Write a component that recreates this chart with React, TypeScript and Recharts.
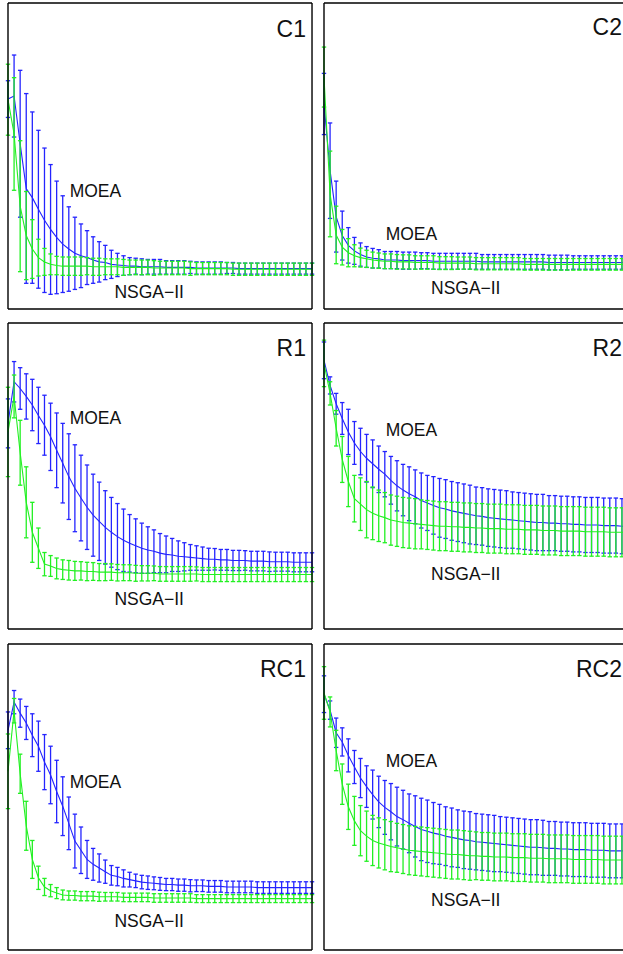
import React from 'react';
import { ComposedChart, Line, XAxis, YAxis, ErrorBar, ReferenceDot } from 'recharts';

// Generation index 0..50
const GENERATIONS = [
  0, 1, 2, 3, 4, 5, 6, 7, 8, 9, 10, 11, 12, 13, 14, 15, 16, 17, 18, 19, 20, 21, 22, 23, 24, 25,
  26, 27, 28, 29, 30, 31, 32, 33, 34, 35, 36, 37, 38, 39, 40, 41, 42, 43, 44, 45, 46, 47, 48, 49, 50,
];
const X_TICKS = [0, 10, 20, 30, 40, 50];
const Y_TICKS = [0, 1, 2, 3, 4, 5];

// ---- C1 ----
const C1_MOEA_MEAN = [
  3.43, 3.48, 2.70, 1.97, 1.82, 1.63, 1.45, 1.30, 1.17, 1.06, 0.98,
  0.91, 0.87, 0.84, 0.80, 0.77, 0.76, 0.73, 0.72, 0.71, 0.70,
  0.70, 0.69, 0.69, 0.69, 0.69, 0.68, 0.68, 0.68, 0.68, 0.68,
  0.67, 0.67, 0.67, 0.67, 0.67, 0.67, 0.67, 0.66, 0.66, 0.66,
  0.66, 0.66, 0.66, 0.66, 0.66, 0.66, 0.66, 0.66, 0.66, 0.66,
];
const C1_MOEA_STD = [
  0.30, 0.67, 1.20, 1.55, 1.40, 1.29, 1.18, 1.06, 0.92, 0.79, 0.69,
  0.59, 0.52, 0.44, 0.38, 0.33, 0.28, 0.23, 0.19, 0.16, 0.14,
  0.13, 0.13, 0.12, 0.12, 0.12, 0.11, 0.11, 0.11, 0.11, 0.10,
  0.10, 0.10, 0.10, 0.10, 0.10, 0.09, 0.09, 0.09, 0.09, 0.09,
  0.09, 0.09, 0.09, 0.09, 0.09, 0.09, 0.09, 0.09, 0.09, 0.09,
];
const C1_NSGA_MEAN = [
  3.42, 2.86, 1.68, 1.20, 0.98, 0.84, 0.77, 0.73, 0.71, 0.70, 0.70,
  0.70, 0.70, 0.70, 0.69, 0.69, 0.69, 0.69, 0.69, 0.68, 0.68,
  0.68, 0.68, 0.68, 0.67, 0.67, 0.67, 0.67, 0.67, 0.67, 0.66,
  0.66, 0.66, 0.66, 0.66, 0.66, 0.66, 0.65, 0.65, 0.65, 0.65,
  0.65, 0.65, 0.65, 0.65, 0.65, 0.65, 0.65, 0.65, 0.65, 0.65,
];
const C1_NSGA_STD = [
  0.58, 0.92, 1.07, 0.72, 0.48, 0.30, 0.22, 0.17, 0.15, 0.15, 0.15,
  0.15, 0.15, 0.14, 0.14, 0.14, 0.13, 0.13, 0.13, 0.13, 0.12,
  0.12, 0.12, 0.12, 0.12, 0.11, 0.11, 0.11, 0.11, 0.11, 0.11,
  0.10, 0.10, 0.10, 0.10, 0.10, 0.10, 0.10, 0.10, 0.10, 0.10,
  0.10, 0.10, 0.10, 0.10, 0.10, 0.10, 0.10, 0.10, 0.10, 0.10,
];

// ---- C2 ----
const C2_MOEA_MEAN = [
  3.35, 2.26, 1.51, 1.20, 1.04, 0.95, 0.89, 0.85, 0.83, 0.82, 0.80,
  0.80, 0.80, 0.79, 0.79, 0.79, 0.79, 0.79, 0.78, 0.78, 0.78,
  0.78, 0.78, 0.78, 0.78, 0.78, 0.77, 0.77, 0.77, 0.77, 0.77,
  0.77, 0.77, 0.77, 0.77, 0.77, 0.77, 0.76, 0.76, 0.76, 0.76,
  0.76, 0.76, 0.76, 0.76, 0.76, 0.76, 0.76, 0.76, 0.76, 0.76,
];
const C2_MOEA_STD = [
  0.50, 0.78, 0.58, 0.40, 0.29, 0.22, 0.19, 0.17, 0.16, 0.15, 0.14,
  0.14, 0.14, 0.14, 0.14, 0.14, 0.13, 0.13, 0.13, 0.13, 0.13,
  0.13, 0.13, 0.13, 0.13, 0.13, 0.12, 0.12, 0.12, 0.12, 0.12,
  0.12, 0.12, 0.12, 0.12, 0.12, 0.12, 0.12, 0.12, 0.12, 0.12,
  0.11, 0.11, 0.11, 0.11, 0.11, 0.11, 0.11, 0.11, 0.11, 0.11,
];
const C2_NSGA_MEAN = [
  3.79, 1.88, 1.21, 1.01, 0.92, 0.87, 0.84, 0.82, 0.80, 0.79, 0.78,
  0.78, 0.77, 0.77, 0.77, 0.76, 0.76, 0.76, 0.76, 0.75, 0.75,
  0.75, 0.75, 0.75, 0.75, 0.74, 0.74, 0.74, 0.74, 0.74, 0.74,
  0.74, 0.74, 0.73, 0.73, 0.73, 0.73, 0.73, 0.73, 0.73, 0.73,
  0.73, 0.73, 0.73, 0.73, 0.73, 0.73, 0.73, 0.73, 0.73, 0.73,
];
const C2_NSGA_STD = [
  0.49, 0.70, 0.47, 0.29, 0.23, 0.18, 0.155, 0.14, 0.13, 0.125, 0.12,
  0.12, 0.12, 0.115, 0.115, 0.11, 0.11, 0.11, 0.11, 0.105, 0.105,
  0.105, 0.10, 0.10, 0.10, 0.10, 0.10, 0.10, 0.10, 0.10, 0.10,
  0.10, 0.10, 0.095, 0.095, 0.095, 0.095, 0.095, 0.095, 0.095, 0.095,
  0.095, 0.095, 0.095, 0.095, 0.095, 0.095, 0.095, 0.095, 0.095, 0.095,
];

// ---- R1 ----
const R1_MOEA_MEAN = [
  3.36, 4.04, 3.93, 3.80, 3.66, 3.49, 3.33, 3.14, 2.92, 2.71, 2.49,
  2.30, 2.14, 1.99, 1.86, 1.76, 1.66, 1.58, 1.51, 1.45, 1.40,
  1.36, 1.32, 1.29, 1.27, 1.24, 1.22, 1.21, 1.19, 1.18, 1.17,
  1.16, 1.15, 1.14, 1.14, 1.13, 1.13, 1.12, 1.12, 1.12, 1.11,
  1.11, 1.11, 1.10, 1.10, 1.10, 1.10, 1.09, 1.09, 1.09, 1.09,
];
const R1_MOEA_STD = [
  0.40, 0.33, 0.34, 0.37, 0.42, 0.46, 0.49, 0.55, 0.61, 0.65, 0.70,
  0.71, 0.70, 0.69, 0.67, 0.64, 0.60, 0.57, 0.54, 0.51, 0.47,
  0.44, 0.41, 0.38, 0.35, 0.32, 0.30, 0.27, 0.25, 0.23, 0.21,
  0.20, 0.19, 0.18, 0.175, 0.17, 0.17, 0.165, 0.165, 0.16, 0.16,
  0.16, 0.16, 0.16, 0.155, 0.155, 0.155, 0.155, 0.155, 0.155, 0.155,
];
const R1_NSGA_MEAN = [
  3.22, 3.80, 2.88, 2.07, 1.58, 1.32, 1.06, 1.03, 0.99, 0.97, 0.96,
  0.95, 0.95, 0.94, 0.94, 0.93, 0.93, 0.93, 0.92, 0.92, 0.92,
  0.91, 0.91, 0.91, 0.91, 0.90, 0.90, 0.90, 0.90, 0.90, 0.90,
  0.90, 0.89, 0.89, 0.89, 0.89, 0.89, 0.89, 0.89, 0.89, 0.89,
  0.89, 0.89, 0.89, 0.89, 0.89, 0.89, 0.89, 0.89, 0.89, 0.89,
];
const R1_NSGA_STD = [
  0.73, 0.35, 0.53, 0.58, 0.49, 0.33, 0.19, 0.17, 0.17, 0.16, 0.16,
  0.155, 0.15, 0.15, 0.145, 0.14, 0.14, 0.135, 0.135, 0.13, 0.13,
  0.13, 0.125, 0.125, 0.12, 0.12, 0.12, 0.12, 0.12, 0.12, 0.12,
  0.115, 0.115, 0.115, 0.115, 0.115, 0.115, 0.115, 0.115, 0.115, 0.115,
  0.115, 0.115, 0.115, 0.115, 0.115, 0.115, 0.115, 0.115, 0.115, 0.115,
];

// ---- R2 ----
const R2_MOEA_MEAN = [
  4.39, 3.98, 3.68, 3.44, 3.22, 3.04, 2.90, 2.79, 2.70, 2.61, 2.53,
  2.43, 2.34, 2.27, 2.21, 2.16, 2.10, 2.06, 2.02, 1.98, 1.96,
  1.93, 1.91, 1.89, 1.87, 1.85, 1.84, 1.82, 1.81, 1.80, 1.79,
  1.78, 1.77, 1.76, 1.75, 1.74, 1.74, 1.73, 1.73, 1.72, 1.72,
  1.71, 1.71, 1.70, 1.70, 1.70, 1.69, 1.69, 1.69, 1.68, 1.68,
];
const R2_MOEA_STD = [
  0.30, 0.14, 0.17, 0.26, 0.37, 0.35, 0.38, 0.39, 0.39, 0.38, 0.37,
  0.39, 0.41, 0.42, 0.44, 0.44, 0.45, 0.45, 0.47, 0.48, 0.48,
  0.48, 0.48, 0.48, 0.48, 0.47, 0.47, 0.47, 0.47, 0.47, 0.47,
  0.46, 0.46, 0.46, 0.46, 0.46, 0.46, 0.45, 0.45, 0.45, 0.45,
  0.45, 0.45, 0.45, 0.45, 0.45, 0.45, 0.45, 0.45, 0.45, 0.45,
];
const R2_NSGA_MEAN = [
  4.34, 3.85, 3.28, 2.77, 2.41, 2.13, 2.04, 1.95, 1.89, 1.85, 1.82,
  1.78, 1.76, 1.74, 1.73, 1.72, 1.71, 1.70, 1.69, 1.68, 1.68,
  1.67, 1.67, 1.66, 1.66, 1.65, 1.65, 1.64, 1.64, 1.64, 1.63,
  1.63, 1.63, 1.62, 1.62, 1.62, 1.61, 1.61, 1.61, 1.60, 1.60,
  1.60, 1.60, 1.59, 1.59, 1.59, 1.59, 1.58, 1.58, 1.58, 1.58,
];
const R2_NSGA_STD = [
  0.38, 0.19, 0.29, 0.375, 0.41, 0.38, 0.43, 0.46, 0.43, 0.42, 0.41,
  0.41, 0.41, 0.41, 0.41, 0.41, 0.40, 0.40, 0.40, 0.40, 0.40,
  0.40, 0.40, 0.40, 0.40, 0.40, 0.40, 0.40, 0.40, 0.40, 0.40,
  0.40, 0.40, 0.40, 0.40, 0.40, 0.40, 0.40, 0.40, 0.40, 0.40,
  0.40, 0.40, 0.40, 0.40, 0.40, 0.40, 0.40, 0.40, 0.40, 0.40,
];

// ---- RC1 ----
const RC1_MOEA_MEAN = [
  3.59, 4.05, 3.87, 3.71, 3.51, 3.33, 3.07, 2.86, 2.59, 2.35, 2.07,
  1.78, 1.63, 1.48, 1.40, 1.34, 1.28, 1.22, 1.20, 1.17, 1.15,
  1.13, 1.11, 1.10, 1.09, 1.08, 1.07, 1.07, 1.06, 1.06, 1.05,
  1.05, 1.05, 1.04, 1.04, 1.04, 1.03, 1.03, 1.03, 1.03, 1.03,
  1.02, 1.02, 1.02, 1.02, 1.02, 1.02, 1.02, 1.02, 1.02, 1.02,
];
const RC1_MOEA_STD = [
  0.30, 0.19, 0.23, 0.27, 0.35, 0.41, 0.45, 0.47, 0.51, 0.48, 0.43,
  0.44, 0.38, 0.31, 0.26, 0.23, 0.19, 0.16, 0.15, 0.14, 0.12,
  0.11, 0.11, 0.11, 0.105, 0.105, 0.10, 0.10, 0.10, 0.10, 0.10,
  0.095, 0.095, 0.095, 0.095, 0.095, 0.095, 0.095, 0.095, 0.095, 0.095,
  0.095, 0.095, 0.095, 0.095, 0.095, 0.095, 0.095, 0.095, 0.095, 0.095,
];
const RC1_NSGA_MEAN = [
  2.92, 3.91, 2.88, 2.03, 1.48, 1.18, 1.03, 0.97, 0.93, 0.90, 0.89,
  0.89, 0.88, 0.88, 0.88, 0.87, 0.87, 0.87, 0.87, 0.86, 0.86,
  0.86, 0.86, 0.86, 0.85, 0.85, 0.85, 0.85, 0.85, 0.85, 0.85,
  0.84, 0.84, 0.84, 0.84, 0.84, 0.84, 0.84, 0.84, 0.84, 0.84,
  0.84, 0.84, 0.84, 0.84, 0.84, 0.84, 0.84, 0.84, 0.84, 0.84,
];
const RC1_NSGA_STD = [
  0.61, 0.20, 0.32, 0.40, 0.31, 0.19, 0.14, 0.10, 0.09, 0.08, 0.075,
  0.075, 0.075, 0.075, 0.075, 0.075, 0.07, 0.07, 0.07, 0.07, 0.07,
  0.07, 0.07, 0.07, 0.07, 0.07, 0.07, 0.07, 0.07, 0.07, 0.07,
  0.065, 0.065, 0.065, 0.065, 0.065, 0.065, 0.065, 0.065, 0.065, 0.065,
  0.065, 0.065, 0.065, 0.065, 0.065, 0.065, 0.065, 0.065, 0.065, 0.065,
];

// ---- RC2 ----
const RC2_MOEA_MEAN = [
  4.18, 3.92, 3.55, 3.40, 3.18, 2.99, 2.81, 2.67, 2.54, 2.42, 2.33,
  2.26, 2.18, 2.13, 2.07, 2.02, 1.97, 1.94, 1.91, 1.89, 1.86,
  1.84, 1.82, 1.80, 1.79, 1.77, 1.76, 1.75, 1.74, 1.73, 1.72,
  1.71, 1.70, 1.69, 1.68, 1.68, 1.67, 1.66, 1.66, 1.65, 1.65,
  1.64, 1.64, 1.64, 1.63, 1.63, 1.63, 1.62, 1.62, 1.62, 1.62,
];
const RC2_MOEA_STD = [
  0.30, 0.15, 0.24, 0.23, 0.27, 0.27, 0.32, 0.34, 0.40, 0.42, 0.44,
  0.46, 0.48, 0.48, 0.48, 0.50, 0.51, 0.51, 0.50, 0.49, 0.48,
  0.48, 0.47, 0.47, 0.47, 0.46, 0.46, 0.46, 0.46, 0.45, 0.45,
  0.45, 0.45, 0.45, 0.45, 0.45, 0.45, 0.44, 0.44, 0.44, 0.44,
  0.44, 0.44, 0.44, 0.44, 0.44, 0.44, 0.44, 0.44, 0.44, 0.44,
];
const RC2_NSGA_MEAN = [
  4.20, 3.89, 3.26, 2.71, 2.34, 2.11, 1.95, 1.86, 1.79, 1.75, 1.72,
  1.69, 1.67, 1.65, 1.63, 1.62, 1.61, 1.60, 1.59, 1.58, 1.57,
  1.56, 1.56, 1.55, 1.54, 1.54, 1.53, 1.53, 1.52, 1.52, 1.52,
  1.51, 1.51, 1.51, 1.50, 1.50, 1.50, 1.49, 1.49, 1.49, 1.49,
  1.48, 1.48, 1.48, 1.48, 1.48, 1.47, 1.47, 1.47, 1.47, 1.47,
];
const RC2_NSGA_STD = [
  0.43, 0.245, 0.33, 0.33, 0.37, 0.40, 0.41, 0.41, 0.41, 0.41, 0.41,
  0.41, 0.40, 0.40, 0.40, 0.40, 0.40, 0.40, 0.40, 0.40, 0.40,
  0.40, 0.40, 0.40, 0.40, 0.39, 0.39, 0.39, 0.39, 0.39, 0.39,
  0.39, 0.39, 0.39, 0.39, 0.39, 0.39, 0.39, 0.39, 0.39, 0.39,
  0.39, 0.39, 0.39, 0.39, 0.39, 0.39, 0.39, 0.39, 0.39, 0.39,
];

const BLUE = '#2424ff';
const GREEN = '#22f022';
const FONT = '"Liberation Sans", Arial, Helvetica, sans-serif';

type PanelDef = {
  name: string;
  left: number;
  top: number;
  mB: number[];
  eB: number[];
  mG: number[];
  eG: number[];
  moea: [number, number];
  nsga: [number, number];
  corner: [number, number];
};

const PANELS: PanelDef[] = [
  { name: 'C1', left: 7.5, top: 3, mB: C1_MOEA_MEAN, eB: C1_MOEA_STD, mG: C1_NSGA_MEAN, eG: C1_NSGA_STD, moea: [10.15, 1.83], nsga: [17.5, 0.18], corner: [49.0, 4.44] },
  { name: 'C2', left: 324, top: 3, mB: C2_MOEA_MEAN, eB: C2_MOEA_STD, mG: C2_NSGA_MEAN, eG: C2_NSGA_STD, moea: [10.15, 1.12], nsga: [17.6, 0.245], corner: [49.0, 4.47] },
  { name: 'R1', left: 7.5, top: 323, mB: R1_MOEA_MEAN, eB: R1_MOEA_STD, mG: R1_NSGA_MEAN, eG: R1_NSGA_STD, moea: [10.15, 3.345], nsga: [17.5, 0.39], corner: [49.0, 4.46] },
  { name: 'R2', left: 324, top: 323, mB: R2_MOEA_MEAN, eB: R2_MOEA_STD, mG: R2_NSGA_MEAN, eG: R2_NSGA_STD, moea: [10.15, 3.15], nsga: [17.6, 0.8], corner: [49.0, 4.46] },
  { name: 'RC1', left: 7.5, top: 643.5, mB: RC1_MOEA_MEAN, eB: RC1_MOEA_STD, mG: RC1_NSGA_MEAN, eG: RC1_NSGA_STD, moea: [10.15, 2.65], nsga: [17.5, 0.375], corner: [49.0, 4.46] },
  { name: 'RC2', left: 324, top: 643.5, mB: RC2_MOEA_MEAN, eB: RC2_MOEA_STD, mG: RC2_NSGA_MEAN, eG: RC2_NSGA_STD, moea: [10.15, 2.99], nsga: [17.6, 0.72], corner: [49.0, 4.46] },
];

const PLOT_W = 304;
const PLOT_H = 306;
const PAD = 10;
const AX = 0.01;

const makeLabel = (text: string, size: number, anchor: 'start' | 'end') => (props: any) => {
  const vb = props.viewBox || {};
  return (
    <text x={vb.x} y={vb.y} textAnchor={anchor} fontSize={size} fontFamily={FONT} fill="#111">
      {text}
    </text>
  );
};

function Panel({ p }: { p: PanelDef }) {
  const data = GENERATIONS.map((g, i) => ({ g, mB: p.mB[i], eB: p.eB[i], mG: p.mG[i], eG: p.eG[i] }));
  const axisLine = { stroke: '#000', strokeWidth: 1.4 };
  const tickLine = { stroke: '#000', strokeWidth: 1 };
  return (
    <div style={{ position: 'absolute', left: p.left - PAD, top: p.top - PAD }}>
      <ComposedChart
        width={PLOT_W + 2 * PAD + 2 * AX}
        height={PLOT_H + 2 * PAD + 2 * AX}
        data={data}
        margin={{ left: PAD, right: PAD, top: PAD, bottom: PAD }}
      >
        <XAxis xAxisId="b" dataKey="g" type="number" domain={[0, 50]} ticks={X_TICKS} tick={false} tickSize={4} mirror height={AX} orientation="bottom" axisLine={axisLine} tickLine={tickLine} />
        <XAxis xAxisId="t" dataKey="g" type="number" domain={[0, 50]} ticks={X_TICKS} tick={false} tickSize={4} mirror height={AX} orientation="top" axisLine={axisLine} tickLine={tickLine} />
        <YAxis yAxisId="l" type="number" domain={[0, 5]} ticks={Y_TICKS} tick={false} tickSize={4} mirror width={AX} orientation="left" axisLine={axisLine} tickLine={tickLine} />
        <YAxis yAxisId="r" type="number" domain={[0, 5]} ticks={Y_TICKS} tick={false} tickSize={4} mirror width={AX} orientation="right" axisLine={axisLine} tickLine={tickLine} />
        <Line xAxisId="b" yAxisId="l" dataKey="mB" stroke={BLUE} strokeWidth={1.1} dot={false} isAnimationActive={false} type="linear">
          <ErrorBar dataKey="eB" direction="y" width={2.2} stroke={BLUE} strokeWidth={1.3} isAnimationActive={false} />
        </Line>
        <Line xAxisId="b" yAxisId="l" dataKey="mG" stroke={GREEN} strokeWidth={1.1} dot={false} isAnimationActive={false} type="linear">
          <ErrorBar dataKey="eG" direction="y" width={2.2} stroke={GREEN} strokeWidth={1.3} isAnimationActive={false} />
        </Line>
        <ReferenceDot xAxisId="b" yAxisId="l" x={p.moea[0]} y={p.moea[1]} r={0} fill="none" stroke="none" label={makeLabel('MOEA', 17.5, 'start')} />
        <ReferenceDot xAxisId="b" yAxisId="l" x={p.nsga[0]} y={p.nsga[1]} r={0} fill="none" stroke="none" label={makeLabel('NSGA\u2212II', 17.5, 'start')} />
        <ReferenceDot xAxisId="b" yAxisId="l" x={p.corner[0]} y={p.corner[1]} r={0} fill="none" stroke="none" label={makeLabel(p.name, 23, 'end')} />
      </ComposedChart>
    </div>
  );
}

export default function App() {
  return (
    <div style={{ position: 'absolute', left: 0, top: 0, width: 623, height: 954, overflow: 'hidden', background: '#fff' }}>
      {PANELS.map((p) => (
        <Panel key={p.name} p={p} />
      ))}
    </div>
  );
}
